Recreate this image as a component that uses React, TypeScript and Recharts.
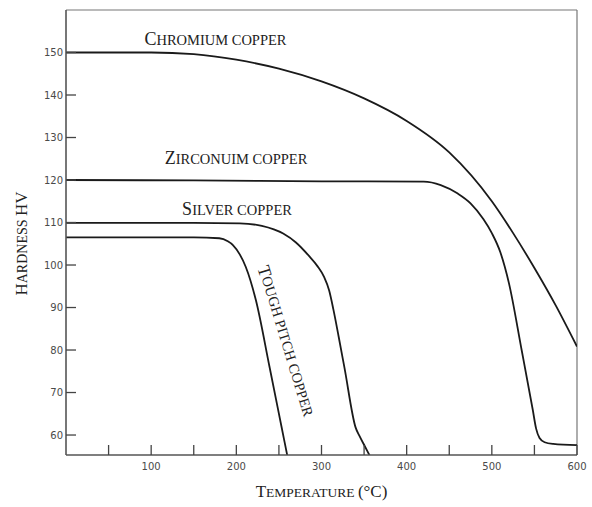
import React from "react";
import { LineChart, Line, XAxis, YAxis, ReferenceLine, ReferenceDot, Label } from "recharts";

const chromiumT = [0, 50, 100, 150, 200, 250, 300, 350, 400, 450, 500, 525, 550, 575, 600];
const chromiumHV = [150, 150, 150, 149.6, 148.3, 146.2, 143.2, 139.2, 133.9, 126.5, 115, 107.5, 99.3, 90.5, 80.8];

const zirconiumT = [0, 150, 300, 420, 440, 460, 475, 490, 500, 510, 520, 535, 548, 552, 556, 562, 572, 600];
const zirconiumHV = [120, 119.9, 119.7, 119.6, 118.8, 116.8, 114.5, 110.8, 107.5, 103, 95.8, 80, 66, 61.5, 59.3, 58.3, 57.9, 57.6];

const silverT = [0, 150, 204, 230, 255, 270, 285, 295, 303, 309, 314, 320, 327, 340, 345, 351, 357];
const silverHV = [109.9, 109.9, 109.8, 109.2, 107.4, 105.3, 102.2, 99.8, 97.2, 94, 89.5, 83.3, 75.8, 61.8, 59.6, 57.3, 55];

const toughT = [0, 150, 180, 190, 196, 204, 211, 223, 239, 253, 261];
const toughHV = [106.5, 106.5, 106.3, 105.6, 104.7, 102.5, 99.6, 91.7, 76, 62, 54];

const xTicks = [50, 100, 150, 200, 250, 300, 350, 400, 450, 500, 550, 600];
const yTicks = [60, 70, 80, 90, 100, 110, 120, 130, 140, 150];
const xDomain = [0, 600];
const yDomain = [55.3, 160];

const seriesLabels = [
  { first: "C", rest: "HROMIUM COPPER", t: 175.5, hv: 151.7, angle: 0 },
  { first: "Z", rest: "IRCONUIM COPPER", t: 199.6, hv: 123.7, angle: 0 },
  { first: "S", rest: "ILVER COPPER", t: 200.8, hv: 111.7, angle: 0 },
  { first: "T", rest: "OUGH PITCH COPPER", t: 258.3, hv: 82.1, angle: 73 },
];

const build = (ts: number[], vs: number[]) => ts.map((t, i) => ({ t, hv: vs[i] }));

const chromium = build(chromiumT, chromiumHV);
const zirconium = build(zirconiumT, zirconiumHV);
const silver = build(silverT, silverHV);
const tough = build(toughT, toughHV);

const SERIF = "'Liberation Serif', 'Times New Roman', serif";
const SANS = "'DejaVu Sans', sans-serif";

const XTick = (props: any) => {
  const { x, y, payload } = props;
  const v = payload.value;
  return (
    <g>
      <line x1={x} x2={x} y1={y} y2={y - 10} stroke="#444" strokeWidth={1.3} />
      {v % 100 === 0 ? (
        <text x={x} y={y + 15} textAnchor="middle" fontFamily={SANS} fontSize={10} fill="#4a4a4a">
          {v}
        </text>
      ) : null}
    </g>
  );
};

const YTick = (props: any) => {
  const { x, y, payload } = props;
  return (
    <g>
      <line x1={x} x2={x + 10} y1={y} y2={y} stroke="#444" strokeWidth={1.3} />
      <text x={x - 3} y={y + 3.6} textAnchor="end" fontFamily={SANS} fontSize={10} fill="#4a4a4a">
        {payload.value}
      </text>
    </g>
  );
};

const capsLabel = (first: string, rest: string, angle: number, center: boolean) => (props: any) => {
  const vb = props.viewBox || {};
  const x = vb.x + (vb.width || 0) / 2;
  const y = vb.y + (vb.height || 0) / 2;
  return (
    <text
      x={x}
      y={y}
      textAnchor="middle"
      dominantBaseline={center ? "central" : "auto"}
      fontFamily={SERIF}
      fill="#222"
      transform={angle ? `rotate(${angle}, ${x}, ${y})` : undefined}
    >
      <tspan fontSize={18}>{first}</tspan>
      <tspan fontSize={14.5}>{rest}</tspan>
    </text>
  );
};

const XTitle = (props: any) => {
  const vb = props.viewBox;
  const x = vb.x + vb.width / 2;
  const y = vb.y + 42;
  return (
    <text x={x} y={y} textAnchor="middle" fontFamily={SERIF} fill="#222">
      <tspan fontSize={17}>T</tspan>
      <tspan fontSize={13.5}>EMPERATURE </tspan>
      <tspan fontSize={17}>(°C)</tspan>
    </text>
  );
};

const YTitle = (props: any) => {
  const vb = props.viewBox;
  const x = 27;
  const y = vb.y + vb.height / 2 + 11;
  return (
    <text x={x} y={y} textAnchor="middle" fontFamily={SERIF} fill="#222" transform={`rotate(-90, ${x}, ${y})`}>
      <tspan fontSize={17}>H</tspan>
      <tspan fontSize={14}>ARDNESS </tspan>
      <tspan fontSize={17}>HV</tspan>
    </text>
  );
};

export default function App() {
  return (
    <div style={{ position: "absolute", left: 0, top: 0, width: 592, height: 507, background: "#fff" }}>
      <LineChart width={592} height={507} margin={{ top: 10, right: 15, bottom: 0, left: 0 }}>
        <XAxis
          type="number"
          dataKey="t"
          domain={xDomain}
          ticks={xTicks}
          allowDataOverflow
          height={52}
          tickSize={0}
          tickMargin={0}
          tickLine={false}
          axisLine={{ stroke: "#555", strokeWidth: 1.6 }}
          tick={<XTick />}
          interval={0}
        >
          <Label content={<XTitle />} />
        </XAxis>
        <YAxis
          type="number"
          dataKey="hv"
          domain={yDomain}
          ticks={yTicks}
          allowDataOverflow
          width={66}
          tickSize={0}
          tickMargin={0}
          tickLine={false}
          axisLine={{ stroke: "#555", strokeWidth: 1.6 }}
          tick={<YTick />}
          interval={0}
        >
          <Label content={<YTitle />} />
        </YAxis>
        <ReferenceLine y={160} stroke="#777" strokeWidth={1.2} ifOverflow="extendDomain" />
        <ReferenceLine x={600} stroke="#777" strokeWidth={1.2} />
        <Line data={chromium} dataKey="hv" type="monotone" stroke="#1a1a1a" strokeWidth={1.8} dot={false} isAnimationActive={false} />
        <Line data={zirconium} dataKey="hv" type="monotone" stroke="#1a1a1a" strokeWidth={1.8} dot={false} isAnimationActive={false} />
        <Line data={silver} dataKey="hv" type="monotone" stroke="#1a1a1a" strokeWidth={1.8} dot={false} isAnimationActive={false} />
        <Line data={tough} dataKey="hv" type="monotone" stroke="#1a1a1a" strokeWidth={1.8} dot={false} isAnimationActive={false} />
        {seriesLabels.map((s) => (
          <ReferenceDot
            key={s.first}
            x={s.t}
            y={s.hv}
            r={0}
            fill="none"
            stroke="none"
            label={{ content: capsLabel(s.first, s.rest, s.angle, s.angle !== 0) }}
          />
        ))}
      </LineChart>
    </div>
  );
}
